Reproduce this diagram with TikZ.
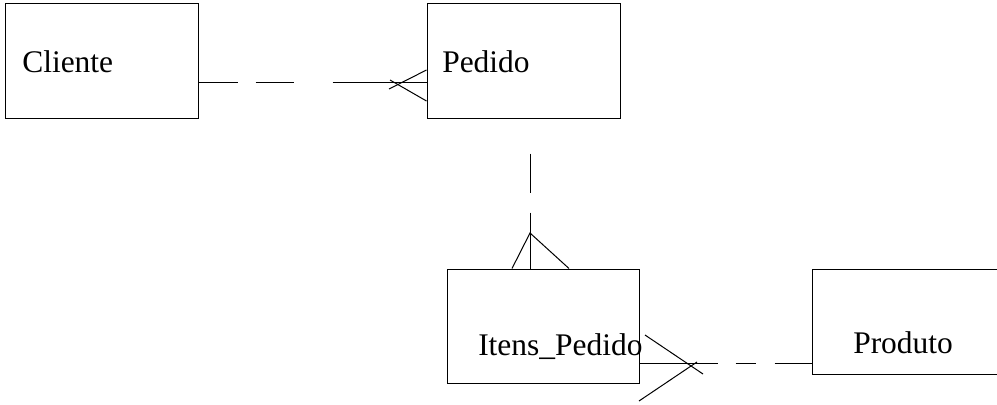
\documentclass[tikz,border=0pt]{standalone}
\usepackage{fontspec}
\setmainfont{Liberation Serif}
\usetikzlibrary{calc}
\begin{document}
\begin{tikzpicture}[x=0.75pt,y=-0.75pt,
  ent/.style={draw,line width=0.75pt,inner sep=0pt,minimum width=#1},
  lbl/.style={anchor=base west,inner sep=0pt,font=\fontsize{23.6pt}{28pt}\selectfont},
  conn/.style={line width=0.75pt},
  foot/.style={line width=0.75pt}]
\useasboundingbox (0,0) rectangle (997,404);
% entities
\node[ent=144.75pt,minimum height=86.25pt] (cli) at (101.5,60.5) {};
\node[ent=144.75pt,minimum height=86.25pt] (ped) at (523.5,60.5) {};
\node[ent=144pt,minimum height=85.5pt] (itn) at (543,326) {};
\node[ent=150pt,minimum height=78.75pt] (prd) at (912,321.5) {};
% labels
\node[lbl] (tcli) at (22,72) {Cliente};
\node[lbl] (tped) at (442,72) {Pedido};
\node[lbl] (titn) at (478,355) {Itens\_Pedido};
\node[lbl] (tprd) at (853,353) {Produto};
% Cliente -- Pedido
\coordinate (c1) at (cli.east |- 0,82);
\coordinate (c2) at (ped.west |- 0,82);
\draw[conn,dash pattern=on 29.25pt off 13.5pt on 28.5pt off 29.25pt on 80pt] (c1) -- (c2);
\coordinate (f1a) at (ped.west |- 0,70);
\coordinate (f1b) at (389,89);
\coordinate (f1c) at (ped.west |- 0,101);
\coordinate (f1d) at (390,80);
\draw[foot] (f1a) -- (f1b);
\draw[foot] (f1c) -- (f1d);
% Pedido -- Itens_Pedido
\coordinate (p1) at (530,0 |- ped.south);
\coordinate (p2) at (530,0 |- itn.north);
\draw[conn,dash pattern=on 0pt off 26.25pt on 29.25pt off 15pt on 50pt] (p1) -- (p2);
\coordinate (f2apex) at (530,233);
\coordinate (f2l) at (512,0 |- itn.north);
\coordinate (f2r) at (569,0 |- itn.north);
\draw[foot] (f2l) -- (f2apex) -- (f2r);
% Itens_Pedido -- Produto
\coordinate (i1) at (itn.east |- 0,363);
\coordinate (i2) at (prd.west |- 0,363);
\draw[conn,dash pattern=on 58.5pt off 13.5pt on 15pt off 14.25pt on 40pt] (i1) -- (i2);
\coordinate (f3a) at (645,335);
\coordinate (f3b) at (703,374);
\coordinate (f3c) at (639,401);
\coordinate (f3d) at (697,362);
\draw[foot] (f3a) -- (f3b);
\draw[foot] (f3c) -- (f3d);
\end{tikzpicture}
\end{document}
